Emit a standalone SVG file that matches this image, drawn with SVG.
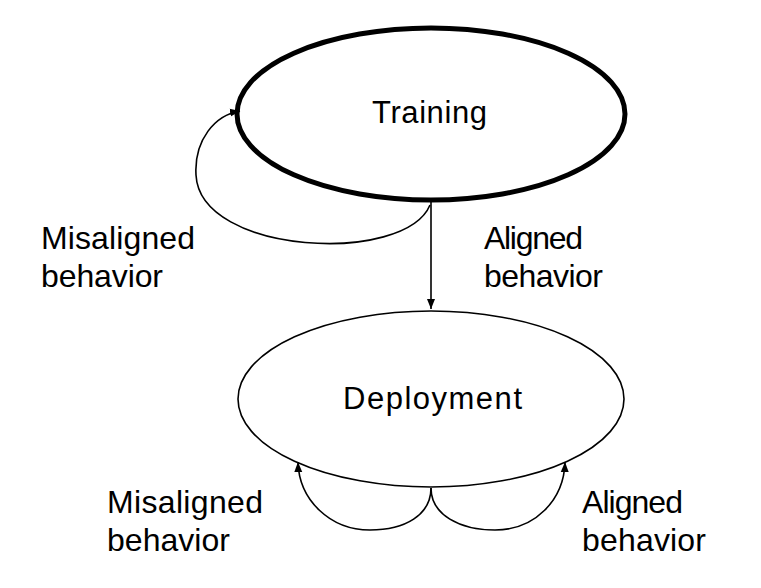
<svg xmlns="http://www.w3.org/2000/svg" width="761" height="588" viewBox="0 0 761 588">
<style>
.lbl{font-family:"Liberation Sans",Arial,sans-serif;font-size:32px;fill:#000}
.node{font-family:"Liberation Sans",Arial,sans-serif;font-size:31px;fill:#000}
.edge{fill:none;stroke:#000;stroke-width:1.6}
</style>
<defs>
<marker id="ah" viewBox="0 0 10 10" refX="10" refY="5" markerWidth="10" markerHeight="10" markerUnits="userSpaceOnUse" orient="auto">
<path d="M0,1 L10,5 L0,9 Z" fill="#000"/>
</marker>
</defs>
<rect width="761" height="588" fill="#fff"/>
<g id="training">
<ellipse cx="431" cy="114" rx="194" ry="86" fill="#fff" stroke="#000" stroke-width="5"/>
<text class="node" x="372" y="123" textLength="115" lengthAdjust="spacing">Training</text>
</g>
<g id="deployment">
<ellipse cx="431" cy="399" rx="193" ry="88" fill="#fff" stroke="#000" stroke-width="1.6"/>
<text class="node" x="343" y="409" textLength="179" lengthAdjust="spacing">Deployment</text>
</g>
<g id="connectors">
<path class="edge" d="M431,202 L431,309" marker-end="url(#ah)"/>
<path class="edge" d="M430,205 C405,265 200,255 196,175 C194,140 215,115 240,111" marker-end="url(#ah)"/>
<path class="edge" d="M431,488 C431,515 405,530 370,530 C330,530 299,500 298,462" marker-end="url(#ah)"/>
<path class="edge" d="M431,488 C431,515 460,530 495,530 C535,530 564,500 565,462" marker-end="url(#ah)"/>
</g>
<g id="labels">
<text class="lbl" x="41" y="249" textLength="154" lengthAdjust="spacing">Misaligned</text>
<text class="lbl" x="41" y="287" textLength="122" lengthAdjust="spacing">behavior</text>
<text class="lbl" x="484" y="249" textLength="99" lengthAdjust="spacing">Aligned</text>
<text class="lbl" x="484" y="287" textLength="119" lengthAdjust="spacing">behavior</text>
<text class="lbl" x="107" y="513" textLength="156" lengthAdjust="spacing">Misaligned</text>
<text class="lbl" x="107" y="551" textLength="123" lengthAdjust="spacing">behavior</text>
<text class="lbl" x="582" y="513" textLength="101" lengthAdjust="spacing">Aligned</text>
<text class="lbl" x="582" y="551" textLength="124" lengthAdjust="spacing">behavior</text>
</g>
</svg>
